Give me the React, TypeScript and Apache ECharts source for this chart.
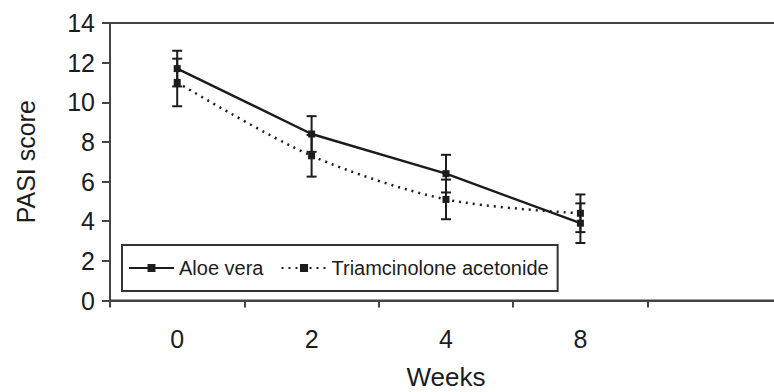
import React, { useEffect, useRef } from "react";
import * as echarts from "echarts";

const weeks = ["0", "2", "4", "8", ""];
const aloeVera = [11.7, 8.4, 6.4, 3.9];
const aloeErr = [0.9, 0.9, 0.95, 1.0];
const triamcinolone = [11.0, 7.3, 5.1, 4.4];
const triamErr = [1.2, 1.05, 1.0, 0.95];
const yTicks = [0, 2, 4, 6, 8, 10, 12, 14];

const FONT = "Liberation Sans, Arial, sans-serif";
const INK = "#1c1c1c";

function errData(vals: number[], errs: number[]) {
  return vals.map((v, i) => [i, v - errs[i], v + errs[i]]);
}

function renderErr(params: any, api: any) {
  const lo = api.coord([api.value(0), api.value(1)]);
  const hi = api.coord([api.value(0), api.value(2)]);
  const hw = 5;
  const style = { stroke: INK, lineWidth: 2 };
  return {
    type: "group",
    children: [
      { type: "line", shape: { x1: lo[0], y1: lo[1], x2: hi[0], y2: hi[1] }, style },
      { type: "line", shape: { x1: lo[0] - hw, y1: lo[1], x2: lo[0] + hw, y2: lo[1] }, style },
      { type: "line", shape: { x1: hi[0] - hw, y1: hi[1], x2: hi[0] + hw, y2: hi[1] }, style },
    ],
  };
}

export default function App() {
  const ref = useRef<HTMLDivElement>(null);
  useEffect(() => {
    if (!ref.current) return;
    const chart = echarts.init(ref.current, null, { renderer: "svg" });
    chart.setOption({
      animation: false,
      backgroundColor: "#fff",
      textStyle: { fontFamily: FONT, color: INK },
      grid: {
        left: 110,
        top: 23,
        width: 672,
        height: 277.5,
        show: true,
        borderColor: "#444",
        borderWidth: 2,
        containLabel: false,
        outerBoundsMode: "none",
      },
      legend: {
        left: 122,
        top: 245,
        orient: "horizontal",
        backgroundColor: "#fff",
        borderColor: "#333",
        borderWidth: 2,
        borderRadius: 0,
        padding: [13, 9, 13, 6],
        itemGap: 17,
        itemWidth: 45,
        itemHeight: 10,
        textStyle: { fontSize: 20, color: INK, fontFamily: FONT },
        data: ["Aloe vera", "Triamcinolone acetonide"],
      },
      xAxis: {
        type: "category",
        data: weeks,
        boundaryGap: true,
        name: "Weeks",
        nameLocation: "middle",
        nameGap: 63,
        nameTextStyle: { fontSize: 26, color: INK, fontFamily: FONT },
        axisLine: { show: true, lineStyle: { color: "#444", width: 2 } },
        axisTick: { show: true, length: 7, lineStyle: { color: "#444", width: 2 } },
        axisLabel: { fontSize: 25, color: INK, margin: 26, fontFamily: FONT },
        splitLine: { show: false },
      },
      yAxis: {
        type: "value",
        min: yTicks[0],
        max: yTicks[yTicks.length - 1],
        interval: 2,
        name: "PASI score",
        nameLocation: "middle",
        nameGap: 72,
        nameRotate: 90,
        nameTextStyle: { fontSize: 25, color: INK, fontFamily: FONT },
        axisLine: { show: true, lineStyle: { color: "#444", width: 2 } },
        axisTick: { show: true, length: 8, lineStyle: { color: "#444", width: 2 } },
        axisLabel: { fontSize: 25, color: INK, margin: 15, fontFamily: FONT },
        splitLine: { show: false },
      },
      series: [
        {
          name: "Aloe vera",
          type: "line",
          data: aloeVera,
          symbol: "rect",
          symbolSize: 7,
          itemStyle: { color: INK },
          lineStyle: { color: INK, width: 2.5, type: "solid" },
          z: 3,
        },
        {
          name: "Triamcinolone acetonide",
          type: "line",
          data: triamcinolone,
          smooth: 0.3,
          symbol: "rect",
          symbolSize: 7,
          itemStyle: { color: INK },
          lineStyle: { color: INK, width: 2.5, type: [2, 5] },
          z: 3,
        },
        {
          name: "aloeErr",
          type: "custom",
          renderItem: renderErr,
          data: errData(aloeVera, aloeErr),
          encode: { x: 0, y: [1, 2] },
          z: 2,
        },
        {
          name: "triamErr",
          type: "custom",
          renderItem: renderErr,
          data: errData(triamcinolone, triamErr),
          encode: { x: 0, y: [1, 2] },
          z: 2,
        },
      ],
    });
    return () => chart.dispose();
  }, []);
  return (
    <div
      ref={ref}
      style={{ position: "absolute", left: 0, top: 0, width: 774, height: 392 }}
    />
  );
}
